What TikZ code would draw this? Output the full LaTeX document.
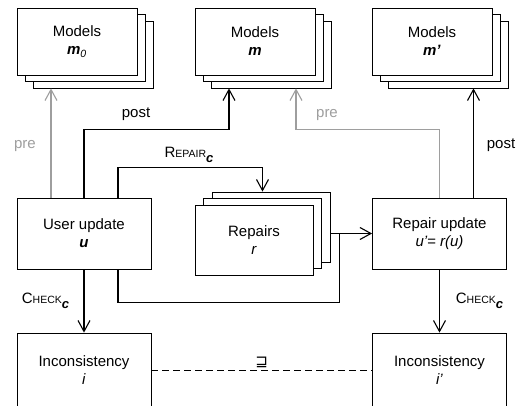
\documentclass[tikz,border=0pt]{standalone}
\usepackage{fontspec}
\setmainfont{Liberation Sans}
\newfontfamily\symbfont{DejaVu Sans}
\usetikzlibrary{arrows.meta,shadows,calc}
\newcommand{\smallcap}[2]{#1{\fontsize{10.5}{12}\selectfont #2}}
\newcommand{\subc}{\raisebox{-5pt}{\fontsize{13}{13}\selectfont\bfseries\itshape c}}
\begin{document}
\begin{tikzpicture}[x=1pt,y=-1pt,font=\fontsize{15}{18}\selectfont]
        \tikzstyle{box}=[draw,fill=white,line width=0.8pt,align=center,inner sep=0pt,minimum width=134pt,minimum height=71pt]
        \tikzstyle{stack}=[box,minimum width=120pt,minimum height=67pt,double copy shadow={shadow xshift=8pt,shadow yshift=-6.5pt}]
        \tikzstyle{repstack}=[box,minimum width=118pt,minimum height=70pt,double copy shadow={shadow xshift=8.5pt,shadow yshift=6.5pt}]
        \tikzstyle{flow}=[line width=1.1pt,-{Straight Barb[length=11pt,width=12pt]}]
        \tikzstyle{preflow}=[flow,black!38]
        \tikzstyle{lbl}=[anchor=base,inner sep=0pt]
        \useasboundingbox (0,0) rectangle (528,405);

        % Models (top row)
        \node(m0)[stack] at (77,41.5) {Models\\\textbf{\textit{m}}\textsubscript{\textit{0}}};
        \node(m)[stack] at (255,41.5) {Models\\\textbf{\textit{m}}};
        \node(mp)[stack] at (432,41.5) {Models\\\textbf{\textit{m'}}};

        % Updates and repairs
        \node(uu)[box] at (84,233.5) {User update\\\textbf{\textit{u}}};
        \node(rp)[repstack] at (254,240) {Repairs\\\textit{r}};
        \node(ru)[box] at (439.5,233.5) {Repair update\\\textit{u'= r(u)}};

        % Inconsistencies
        \node(inc)[box,minimum height=74pt] at (84,370) {Inconsistency\\\textit{i}};
        \node(incp)[box,minimum height=74pt] at (439.5,370) {Inconsistency\\\textit{i'}};

        % Ports
        \coordinate (uupre) at ([xshift=-33pt]uu.north);
        \coordinate (uurep) at ([xshift=34pt]uu.north);
        \coordinate (uuloop) at ([xshift=34pt]uu.south);
        \coordinate (rupost) at ([xshift=34pt]ru.north);
        \coordinate (m0s) at ([yshift=-13pt]m0.south);
        \coordinate (ms) at ([yshift=-13pt]m.south);
        \coordinate (mps) at ([yshift=-13pt]mp.south);
        \coordinate (rpt) at ([xshift=8.5pt,yshift=13pt]rp.north);
        \coordinate (rpe) at ([xshift=17pt]rp.east);
        \coordinate (jn) at ($(rpe |- ru.west)+(9,0)$);

        % Connectors
        \draw[preflow] (uupre) -- (uupre |- m0s);
        \draw[flow] (uu.north) -- ++(0,-68) -| ([xshift=-26pt]ms);
        \draw[preflow] (ru.north) -- ++(0,-68) -| ([xshift=41pt]ms);
        \draw[flow] (rupost) -- (rupost |- mps);
        \draw[flow] (uurep) -- ++(0,-30) -| (rpt);
        \draw[flow] (rpe |- ru.west) -- (ru.west);
        \draw[line width=1.1pt] (uuloop) -- ++(0,33) -| (jn);
        \draw[flow] (uu.south) -- (inc.north);
        \draw[flow] (ru.south) -- (incp.north);
        \draw[dash pattern=on 7pt off 4pt,line width=0.8pt] (inc.east) -- node[above,inner sep=0pt,yshift=2pt](sq){\symbfont ⊒} (incp.west);

        % Labels
        \node(prel)[lbl,black!38] at (25,148) {pre};
        \node(postl)[lbl] at (136,117) {post};
        \node(prer)[lbl,black!38] at (327,117) {pre};
        \node(postr)[lbl] at (501,148) {post};
        \node(repl)[lbl] at (189,157) {\smallcap{R}{EPAIR}\subc};
        \node(chkl)[lbl] at (45.5,303) {\smallcap{C}{HECK}\subc};
        \node(chkr)[lbl] at (479.5,303) {\smallcap{C}{HECK}\subc};
    \end{tikzpicture}
\end{document}
